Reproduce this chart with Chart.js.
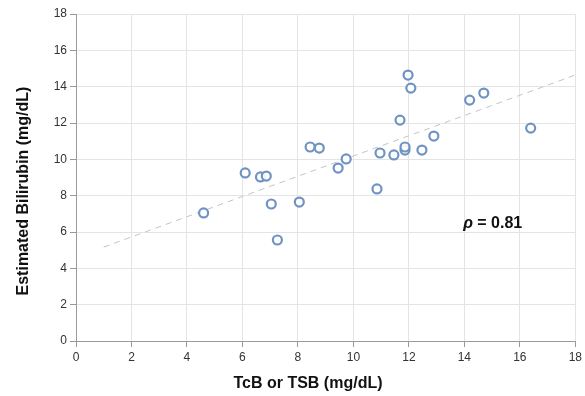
<!DOCTYPE html>
<html><head><meta charset="utf-8">
<script src="https://cdn.jsdelivr.net/npm/chart.js@4/dist/chart.umd.min.js"></script>
<style>html,body{margin:0;padding:0;background:#fff}#wrap{width:585px;height:396px}</style>
</head><body><div id="wrap"><canvas id="c" width="585" height="396"></canvas></div>
<script>
const xValues = [4.6, 6.1, 6.65, 6.86, 7.04, 7.26, 8.05, 8.44, 8.77, 9.45, 9.74, 10.85, 10.96, 11.46, 11.68, 11.86, 11.86, 11.97, 12.07, 12.47, 12.9, 14.19, 14.7, 16.39];
const yValues = [7.05, 9.25, 9.03, 9.08, 7.54, 5.56, 7.65, 10.68, 10.62, 9.52, 10.02, 8.37, 10.35, 10.24, 12.16, 10.51, 10.68, 14.64, 13.92, 10.51, 11.28, 13.26, 13.65, 11.72];
const trendX = [1, 18];
const trendY = [5.17, 14.64];
const xTicks = [0, 2, 4, 6, 8, 10, 12, 14, 16, 18];
const yTicks = [0, 2, 4, 6, 8, 10, 12, 14, 16, 18];
const xTitle = 'TcB or TSB (mg/dL)';
const yTitle = 'Estimated Bilirubin (mg/dL)';
const annotation = {x: 15.02, y: 6.44, symbol: 'ρ', text: ' = 0.81'};

const FONT = "'Liberation Sans', Arial, Helvetica, sans-serif";
const points = xValues.map((x, i) => ({x, y: yValues[i]}));
const trend = trendX.map((x, i) => ({x, y: trendY[i]}));

const annoPlugin = {
  id: 'anno',
  afterDatasetsDraw(chart) {
    const {ctx, scales, chartArea} = chart;
    ctx.save();
    ctx.fillStyle = '#111';
    ctx.textBaseline = 'middle';
    // correlation label
    const px = scales.x.getPixelForValue(annotation.x);
    const py = scales.y.getPixelForValue(annotation.y);
    ctx.font = "italic bold 16px " + FONT;
    const w1 = ctx.measureText(annotation.symbol).width;
    ctx.font = "bold 16px " + FONT;
    const w2 = ctx.measureText(annotation.text).width;
    const start = px - (w1 + w2) / 2;
    ctx.font = "italic bold 16px " + FONT;
    ctx.textAlign = 'left';
    ctx.fillText(annotation.symbol, start, py);
    ctx.font = "bold 16px " + FONT;
    ctx.fillText(annotation.text, start + w1, py);
    // axis titles
    ctx.textAlign = 'center';
    ctx.font = "bold 16px " + FONT;
    ctx.fillText(xTitle, chartArea.left + 232, chart.height - 12);
    ctx.translate(24, chartArea.top + 177);
    ctx.rotate(-Math.PI / 2);
    ctx.fillText(yTitle, 0, 0);
    ctx.restore();
  }
};

new Chart(document.getElementById('c'), {
  type: 'scatter',
  data: {
    datasets: [
      {
        type: 'line', data: trend, borderColor: '#c4c4c4', borderWidth: 1,
        borderDash: [6, 5], pointRadius: 0, fill: false, order: 2
      },
      {
        data: points, pointRadius: 4.5, pointHoverRadius: 4.5, pointBorderWidth: 2.2,
        pointBorderColor: '#6f93c2', pointBackgroundColor: 'rgba(255,255,255,0.9)', order: 1
      }
    ]
  },
  options: {
    responsive: false, animation: false,
    layout: {padding: {left: 0, right: 8, top: 14, bottom: 0}},
    plugins: {legend: {display: false}, tooltip: {enabled: false}},
    scales: {
      x: {
        type: 'linear', min: 0, max: 18,
        afterBuildTicks: s => { s.ticks = xTicks.map(v => ({value: v})); },
        afterFit: s => { s.height = 55; },
        grid: {color: '#e4e4e4', tickColor: '#999', tickLength: 6, drawOnChartArea: true},
        border: {color: '#999', width: 1},
        ticks: {color: '#333', font: {family: FONT, size: 12}, padding: 3, maxRotation: 0}
      },
      y: {
        type: 'linear', min: 0, max: 18,
        afterBuildTicks: s => { s.ticks = yTicks.map(v => ({value: v})); },
        afterFit: s => { s.width = 76; },
        grid: {color: '#e4e4e4', tickColor: '#999', tickLength: 6},
        border: {color: '#999', width: 1},
        ticks: {color: '#333', font: {family: FONT, size: 12}, padding: 3}
      }
    }
  },
  plugins: [annoPlugin]
});
</script></body></html>
